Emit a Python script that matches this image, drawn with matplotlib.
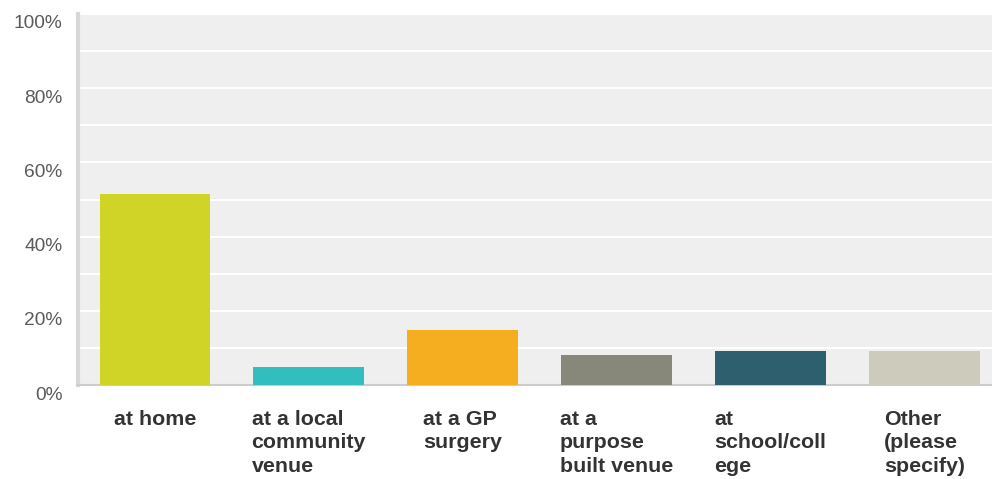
import numpy as np
import matplotlib.pyplot as plt
import matplotlib.transforms as mtransforms

# answer options and share of responses
categories = [
    "at home",
    "at a local\ncommunity\nvenue",
    "at a GP\nsurgery",
    "at a\npurpose\nbuilt venue",
    "at\nschool/coll\nege",
    "Other\n(please\nspecify)",
]
shares = [0.514, 0.049, 0.147, 0.081, 0.091, 0.091]
colors = ["#CFD427", "#32BDBE", "#F5AE1F", "#87877A", "#2E5F6E", "#CDCBBC"]
ytick_labels = ["0%", "20%", "40%", "60%", "80%", "100%"]

plt.rcParams['font.family'] = ['Liberation Sans', 'DejaVu Sans']

fig = plt.figure(figsize=(9.92, 4.79), dpi=100)
ax = fig.add_axes([78 / 992, 1 - 385 / 479, 1 - 78 / 992, (385 - 14) / 479])
ax.set_facecolor("#EFEFEF")

x = np.arange(len(categories))
ax.bar(x, shares, width=0.72, color=colors, zorder=3)

ax.set_xlim(-0.5, 5.44)
ax.set_ylim(0, 1)

# white grid every 10%, labels every 20%
ax.set_yticks(np.linspace(0, 1, 6))
ax.set_yticks(np.linspace(0, 1, 11), minor=True)
ax.set_yticklabels(ytick_labels)
ax.grid(axis="y", which="both", color="white", linewidth=1.5, zorder=1)
ax.tick_params(axis="y", which="both", length=0, pad=11,
               labelsize=13.8, labelcolor="#5A5A5A")
for lbl in ax.get_yticklabels():
    lbl.set_transform(lbl.get_transform() +
                      mtransforms.ScaledTranslation(0, -8 / 100, fig.dpi_scale_trans))

ax.set_xticks(x)
ax.set_xticklabels(categories, fontsize=15.4, fontweight="bold", color="#333333")
for lbl in ax.get_xticklabels():
    lbl.set_multialignment("left")
    lbl.set_linespacing(1.3)
ax.tick_params(axis="x", length=0, pad=18)

for side in ["top", "right"]:
    ax.spines[side].set_visible(False)
ax.spines["left"].set_color("#D8D8D8")
ax.spines["left"].set_linewidth(3)
ax.spines["bottom"].set_color("#CCCCCC")
ax.spines["bottom"].set_linewidth(1.5)

fig.savefig("out.png", dpi=100)
